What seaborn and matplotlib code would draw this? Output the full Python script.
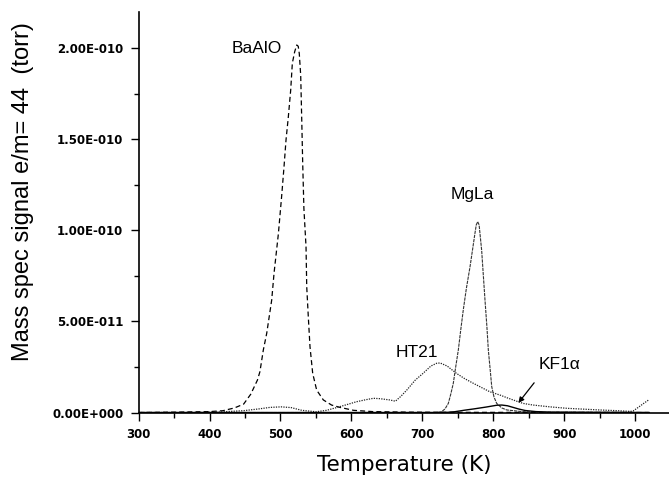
import seaborn as sns
import matplotlib.pyplot as plt
from matplotlib.ticker import MultipleLocator

# temperatures (K) and signals (units of 1e-10 torr)
baalo_t = [300, 350, 400, 419, 435, 448, 458, 467.5, 471, 475.8, 480.6, 487.6, 490.9, 497,
           501.7, 505, 507.8, 511, 514.4, 516.7, 520, 522.9, 525, 526.5, 528.5, 530, 531.3,
           533, 536, 537, 539.2, 541.6, 545.4, 551, 560.4, 572, 584, 603, 630, 680, 750, 1020]
baalo_v = [0.0, 0.002, 0.005, 0.01, 0.025, 0.046, 0.10, 0.178, 0.224, 0.343, 0.435, 0.617, 0.764, 0.98,
           1.19, 1.35, 1.496, 1.62, 1.77, 1.917, 1.98, 2.017, 2.01, 1.97, 1.85, 1.60, 1.37,
           1.12, 0.91, 0.69, 0.526, 0.361, 0.215, 0.123, 0.069, 0.041, 0.028, 0.012, 0.005, 0.002, 0.001, 0.0]

ht21_t = [300, 385, 420, 448, 470, 485, 501, 515, 530, 550, 565, 579, 595, 607, 620, 631, 640,
          654, 662, 670, 678, 690, 701, 712, 720, 725, 735, 748, 760, 772, 795, 810, 820, 833,
          842, 856, 880, 904, 950, 975, 993, 997, 1005, 1012, 1019]
ht21_v = [0.0, 0.0, 0.004, 0.01, 0.02, 0.028, 0.031, 0.027, 0.012, 0.004, 0.012, 0.027, 0.045, 0.059,
          0.07, 0.078, 0.076, 0.069, 0.062, 0.09, 0.123, 0.178, 0.215, 0.255, 0.27, 0.272, 0.255,
          0.215, 0.185, 0.16, 0.114, 0.095, 0.08, 0.062, 0.05, 0.041, 0.031, 0.023, 0.014, 0.01,
          0.006, 0.008, 0.03, 0.05, 0.069]

mgla_t = [300, 720, 727, 732, 736.6, 740, 743.6, 747, 750.7, 754, 757.7, 762, 767.2, 771, 774,
          776, 778, 780, 783.6, 786, 788.3, 791, 793, 795.5, 797.8, 801, 804.8, 812, 819, 840, 870, 1020]
mgla_v = [0.0, 0.0, 0.004, 0.02, 0.05, 0.10, 0.16, 0.25, 0.343, 0.45, 0.563, 0.68, 0.80, 0.90, 0.98,
          1.03, 1.047, 1.03, 0.89, 0.75, 0.617, 0.47, 0.343, 0.24, 0.142, 0.085, 0.05, 0.025, 0.014,
          0.005, 0.002, 0.0]

kf1_t = [300, 720, 735, 745, 760, 773, 790, 805, 812, 820, 828, 836, 845, 860, 880, 1020]
kf1_v = [0.0, 0.0, 0.001, 0.004, 0.013, 0.02, 0.03, 0.04, 0.041, 0.037, 0.028, 0.019, 0.011, 0.005, 0.002, 0.0]

ytick_vals = [0, 0.5, 1.0, 1.5, 2.0]
ytick_labels = ["0.00E+000", "5.00E-011", "1.00E-010", "1.50E-010", "2.00E-010"]
xtick_vals = [300, 400, 500, 600, 700, 800, 900, 1000]

sns.set_style("ticks")
plt.rcParams['font.family'] = ['Liberation Sans', 'DejaVu Sans']
plt.rcParams['text.color'] = 'black'
plt.rcParams['axes.labelcolor'] = 'black'
plt.rcParams['xtick.color'] = 'black'
plt.rcParams['ytick.color'] = 'black'

fig = plt.figure(figsize=(6.69, 4.8), dpi=100)
ax = fig.add_axes([0.2072, 0.1406, 0.7928, 0.8344])

sns.lineplot(x=baalo_t, y=baalo_v, ax=ax, color="black", lw=0.9, linestyle=(0, (4, 2.5)))
sns.lineplot(x=ht21_t, y=ht21_v, ax=ax, color="#222222", lw=0.9, linestyle=(0, (1, 1)))
sns.lineplot(x=mgla_t, y=mgla_v, ax=ax, color="#333333", lw=0.8, linestyle=(0, (3, 0.8)))
sns.lineplot(x=kf1_t, y=kf1_v, ax=ax, color="black", lw=1.0)

ax.set_xlim(300, 1047.7)
ax.set_ylim(0, 2.198)
ax.set_xticks(xtick_vals)
ax.set_yticks(ytick_vals)
ax.set_yticklabels(ytick_labels)
ax.xaxis.set_minor_locator(MultipleLocator(50))
ax.yaxis.set_minor_locator(MultipleLocator(0.25))
ax.tick_params(which="major", direction="out", length=6, width=1, labelsize=8.5, pad=5,
               color="black", labelcolor="black")
ax.tick_params(which="minor", direction="out", length=3.5, width=1, color="black")
for lab in ax.get_xticklabels() + ax.get_yticklabels():
    lab.set_fontweight("bold")
    lab.set_family("DejaVu Sans")

sns.despine(ax=ax)
ax.spines["left"].set_linewidth(1.2)
ax.spines["bottom"].set_linewidth(1.2)
ax.spines["left"].set_color("black")
ax.spines["bottom"].set_color("black")

ax.set_xlabel("Temperature (K)", fontsize=15.5, labelpad=10, family="DejaVu Sans")
ax.set_ylabel("")
fig.text(0.035, 0.6, "Mass spec signal e/m= 44  (torr)", rotation=90, fontsize=17,
         ha="center", va="center")

ax.text(467, 1.995, "BaAlO", fontsize=12.5, ha="center", va="center")
ax.text(770, 1.199, "MgLa", fontsize=12.5, ha="center", va="center")
ax.text(692, 0.332, "HT21", fontsize=12.5, ha="center", va="center")
ax.text(894, 0.261, "KF1\u03b1", fontsize=12.5, ha="center", va="center")
ax.annotate("", xy=(833, 0.041), xytext=(860, 0.175),
            arrowprops=dict(arrowstyle="-|>", color="black", lw=0.9, mutation_scale=8))

fig.savefig("out.png", dpi=100)
